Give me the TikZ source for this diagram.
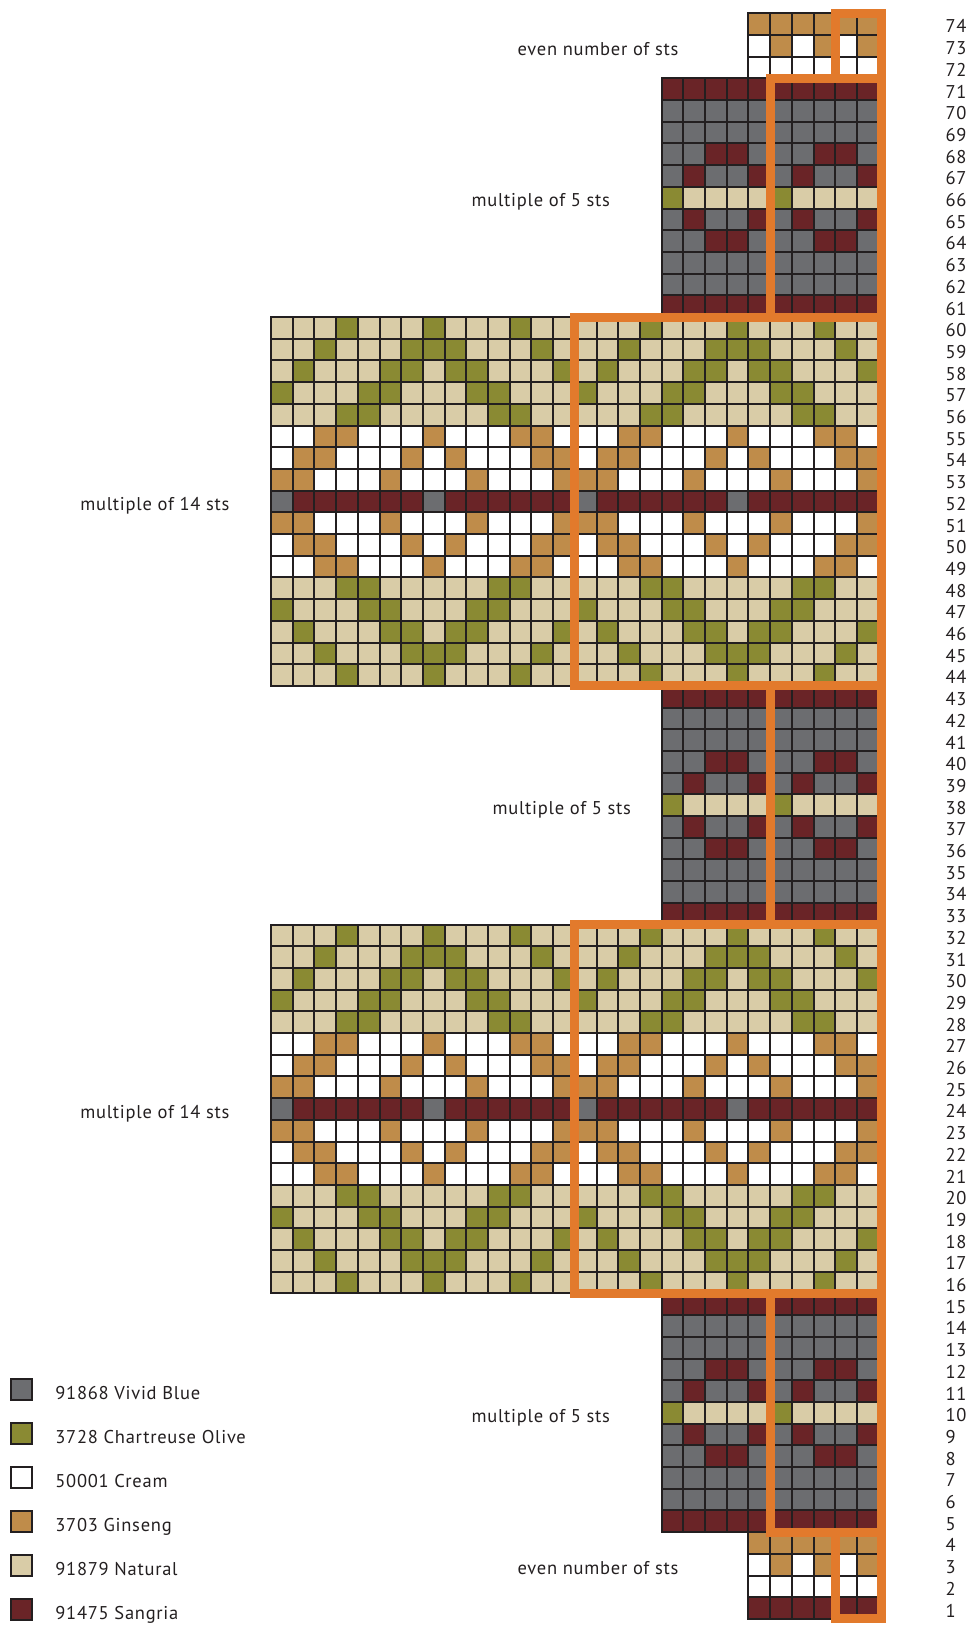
\documentclass[tikz,border=0pt]{standalone}
\usepackage{fontspec}
\setmainfont{PT Sans}
\newfontfamily\chartfam[LetterSpace=4]{PT Sans}
\definecolor{yB}{HTML}{6C6D70}
\definecolor{yO}{HTML}{8A8A33}
\definecolor{yC}{HTML}{FFFFFF}
\definecolor{yG}{HTML}{BF8C4A}
\definecolor{yN}{HTML}{D9CCA7}
\definecolor{yS}{HTML}{6A2427}
\definecolor{cframe}{HTML}{E27A2C}
\definecolor{cgrid}{HTML}{231F20}
\newcommand{\cellsz}{21.7pt}
\newcommand{\chartfont}{\chartfam\fontsize{18.5}{22}\selectfont}
\tikzset{
  every picture/.style={x=\cellsz, y=\cellsz},
  gridline/.style={draw=cgrid, line width=2pt, step=\cellsz},
  repframe/.style={draw=cframe, line width=9pt},
  sectlabel/.style={font=\chartfont, anchor=base, inner sep=0pt, text=cgrid},
  rownum/.style={font=\chartfont, anchor=base west, inner sep=0pt, text=cgrid},
  swatch/.style={draw=cgrid, line width=2pt, minimum size=21pt, inner sep=0pt},
  keytext/.style={font=\chartfont, anchor=base west, inner sep=0pt, text=cgrid},
}
% one row of stitches: #1 = row (bottom), #2 = first column, #3 = yarn list
\newcommand{\knitrow}[3]{%
  \foreach \yarn [count=\st from 0] in #3
    \fill[fill=y\yarn] ({#2+\st},{#1}) rectangle ++(1,1);}

\begin{document}
\begin{tikzpicture}
  \useasboundingbox (-12.49,-0.37) rectangle (32.30,74.61);
  % even number of sts
  \foreach \rep in {22,24,26} {
    \foreach \dy/\pat in {0/{S,S}, 1/{C,C}, 2/{C,G}, 3/{G,G}, 71/{C,C}, 72/{C,G}, 73/{G,G}}
      {\knitrow{\dy}{\rep}{\pat}}
  }
  % multiple of 5 sts
  \foreach \base in {4,32,60} \foreach \rep in {18,23} {
    \foreach \dy/\pat in {0/{S,S,S,S,S}, 1/{B,B,B,B,B}, 2/{B,B,B,B,B}, 3/{B,B,S,S,B},
                          4/{B,S,B,B,S}, 5/{O,N,N,N,N}, 6/{B,S,B,B,S}, 7/{B,B,S,S,B},
                          8/{B,B,B,B,B}, 9/{B,B,B,B,B}, 10/{S,S,S,S,S}}
      {\knitrow{\base+\dy}{\rep}{\pat}}
  }
  % multiple of 14 sts
  \foreach \base in {15,43} \foreach \rep in {0,14} {
    \foreach \dy/\pat in {0/{N,N,N,O,N,N,N,O,N,N,N,O,N,N}, 1/{N,N,O,N,N,N,O,O,O,N,N,N,O,N},
                          2/{N,O,N,N,N,O,O,N,O,O,N,N,N,O}, 3/{O,N,N,N,O,O,N,N,N,O,O,N,N,N},
                          4/{N,N,N,O,O,N,N,N,N,N,O,O,N,N}, 5/{C,C,G,G,C,C,C,G,C,C,C,G,G,C},
                          6/{C,G,G,C,C,C,G,C,G,C,C,C,G,G}, 7/{G,G,C,C,C,G,C,C,C,G,C,C,C,G},
                          8/{B,S,S,S,S,S,S,B,S,S,S,S,S,S},
                          9/{G,G,C,C,C,G,C,C,C,G,C,C,C,G}, 10/{C,G,G,C,C,C,G,C,G,C,C,C,G,G},
                          11/{C,C,G,G,C,C,C,G,C,C,C,G,G,C}, 12/{N,N,N,O,O,N,N,N,N,N,O,O,N,N},
                          13/{O,N,N,N,O,O,N,N,N,O,O,N,N,N}, 14/{N,O,N,N,N,O,O,N,O,O,N,N,N,O},
                          15/{N,N,O,N,N,N,O,O,O,N,N,N,O,N}, 16/{N,N,N,O,N,N,N,O,N,N,N,O,N,N}}
      {\knitrow{\base+\dy}{\rep}{\pat}}
  }
  % grid lines
  \foreach \xa/\ya/\yb in {22/0/4, 18/4/15, 0/15/32, 18/32/43, 0/43/60, 18/60/71, 22/71/74}
    \draw[gridline] (\xa,\ya) grid (28,\yb) (\xa,\ya) rectangle (28,\yb);
  % repeat frames
  \foreach \xa/\ya/\yb in {26/0/4, 23/4/15, 14/15/32, 23/32/43, 14/43/60, 23/60/71, 26/71/74}
    \draw[repframe] (\xa,\ya) rectangle (28.15,\yb);
  % row numbers
  \foreach \r in {1,...,74}
    \node[rownum] (rn\r) at (31.08,{\r-0.91}) {\r};
  % section labels
  \node[sectlabel] (evtop) at (15.07,72.07) {even number of sts};
  \node[sectlabel] (fivetop) at (12.43,65.07) {multiple of 5 sts};
  \node[sectlabel] (fourtop) at (-5.35,51.07) {multiple of 14 sts};
  \node[sectlabel] (fivemid) at (13.40,37.07) {multiple of 5 sts};
  \node[sectlabel] (fourbot) at (-5.35,23.07) {multiple of 14 sts};
  \node[sectlabel] (fivebot) at (12.43,9.07) {multiple of 5 sts};
  \node[sectlabel] (evbot) at (15.07,2.07) {even number of sts};
  % legend
  \foreach \yarn/\txt [count=\i from 0] in {B/91868 Vivid Blue, O/3728 Chartreuse Olive,
      C/50001 Cream, G/3703 Ginseng, N/91879 Natural, S/91475 Sangria} {
    \node[swatch, fill=y\yarn] (sw\yarn) at (-11.49,{10.58-2.028*\i}) {};
    \node[keytext] (kt\yarn) at ([shift={(22pt,-10.1pt)}]sw\yarn.east) {\txt};
  }
\end{tikzpicture}
\end{document}
